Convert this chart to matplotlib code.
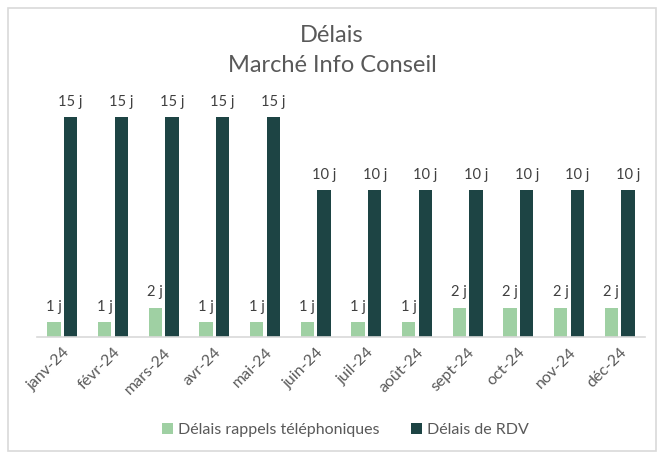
import numpy as np
import matplotlib.pyplot as plt
from matplotlib.patches import Rectangle

# données du graphique
mois = ['janv-24', 'févr-24', 'mars-24', 'avr-24', 'mai-24', 'juin-24',
        'juil-24', 'août-24', 'sept-24', 'oct-24', 'nov-24', 'déc-24']
rappels = [1, 1, 2, 1, 1, 1, 1, 1, 2, 2, 2, 2]
rdv = [15, 15, 15, 15, 15, 10, 10, 10, 10, 10, 10, 10]

plt.rcParams['font.family'] = ['Lato', 'DejaVu Sans']

vert_clair = '#9fd0a3'
vert_fonce = '#1d4444'
gris_texte = '#595959'

fig = plt.figure(figsize=(6.64, 4.57), dpi=100)
fig.patch.set_facecolor('white')
# cadre gris autour du graphique
fig.add_artist(Rectangle((8 / 664, 1 - 451 / 457), 648 / 664, 443 / 457,
                         transform=fig.transFigure, fill=False,
                         edgecolor='#d9d9d9', lw=1.2))

ax = fig.add_axes([37 / 664, 1 - 337 / 457, 608 / 664, 250 / 457])
x = np.arange(len(mois))
w = 0.26
b1 = ax.bar(x - 0.165, rappels, w, color=vert_clair, label='Délais rappels téléphoniques')
b2 = ax.bar(x + 0.165, rdv, w, color=vert_fonce, label='Délais de RDV')

for bars in (b1, b2):
    ax.bar_label(bars, labels=[f'{int(b.get_height())} j' for b in bars],
                 padding=6, fontsize=10.5, color='#404040')

ax.set_xlim(-0.5, len(mois) - 0.5)
ax.set_ylim(0, 17.05)
ax.set_yticks([])
for s in ('top', 'right', 'left'):
    ax.spines[s].set_visible(False)
ax.spines['bottom'].set_color('#d9d9d9')
ax.spines['bottom'].set_linewidth(1.2)
ax.set_xticks(x)
ax.set_xticklabels(mois, rotation=45, ha='right', rotation_mode='anchor',
                   fontsize=11.5, color=gris_texte)
ax.tick_params(axis='x', length=0, pad=6)

fig.text(0.5, 1 - 35 / 457, 'Délais', ha='center', va='center',
         fontsize=17, color=gris_texte)
fig.text(0.5, 1 - 66 / 457, 'Marché Info Conseil', ha='center', va='center',
         fontsize=17, color=gris_texte)

fig.legend(handles=[b1, b2], loc='center', bbox_to_anchor=(0.52, 1 - 430 / 457),
           ncol=2, frameon=False, fontsize=11.5, labelcolor=gris_texte,
           handlelength=0.7, handleheight=0.7, handletextpad=0.3, columnspacing=2.0)

fig.savefig('out.png', dpi=100)
